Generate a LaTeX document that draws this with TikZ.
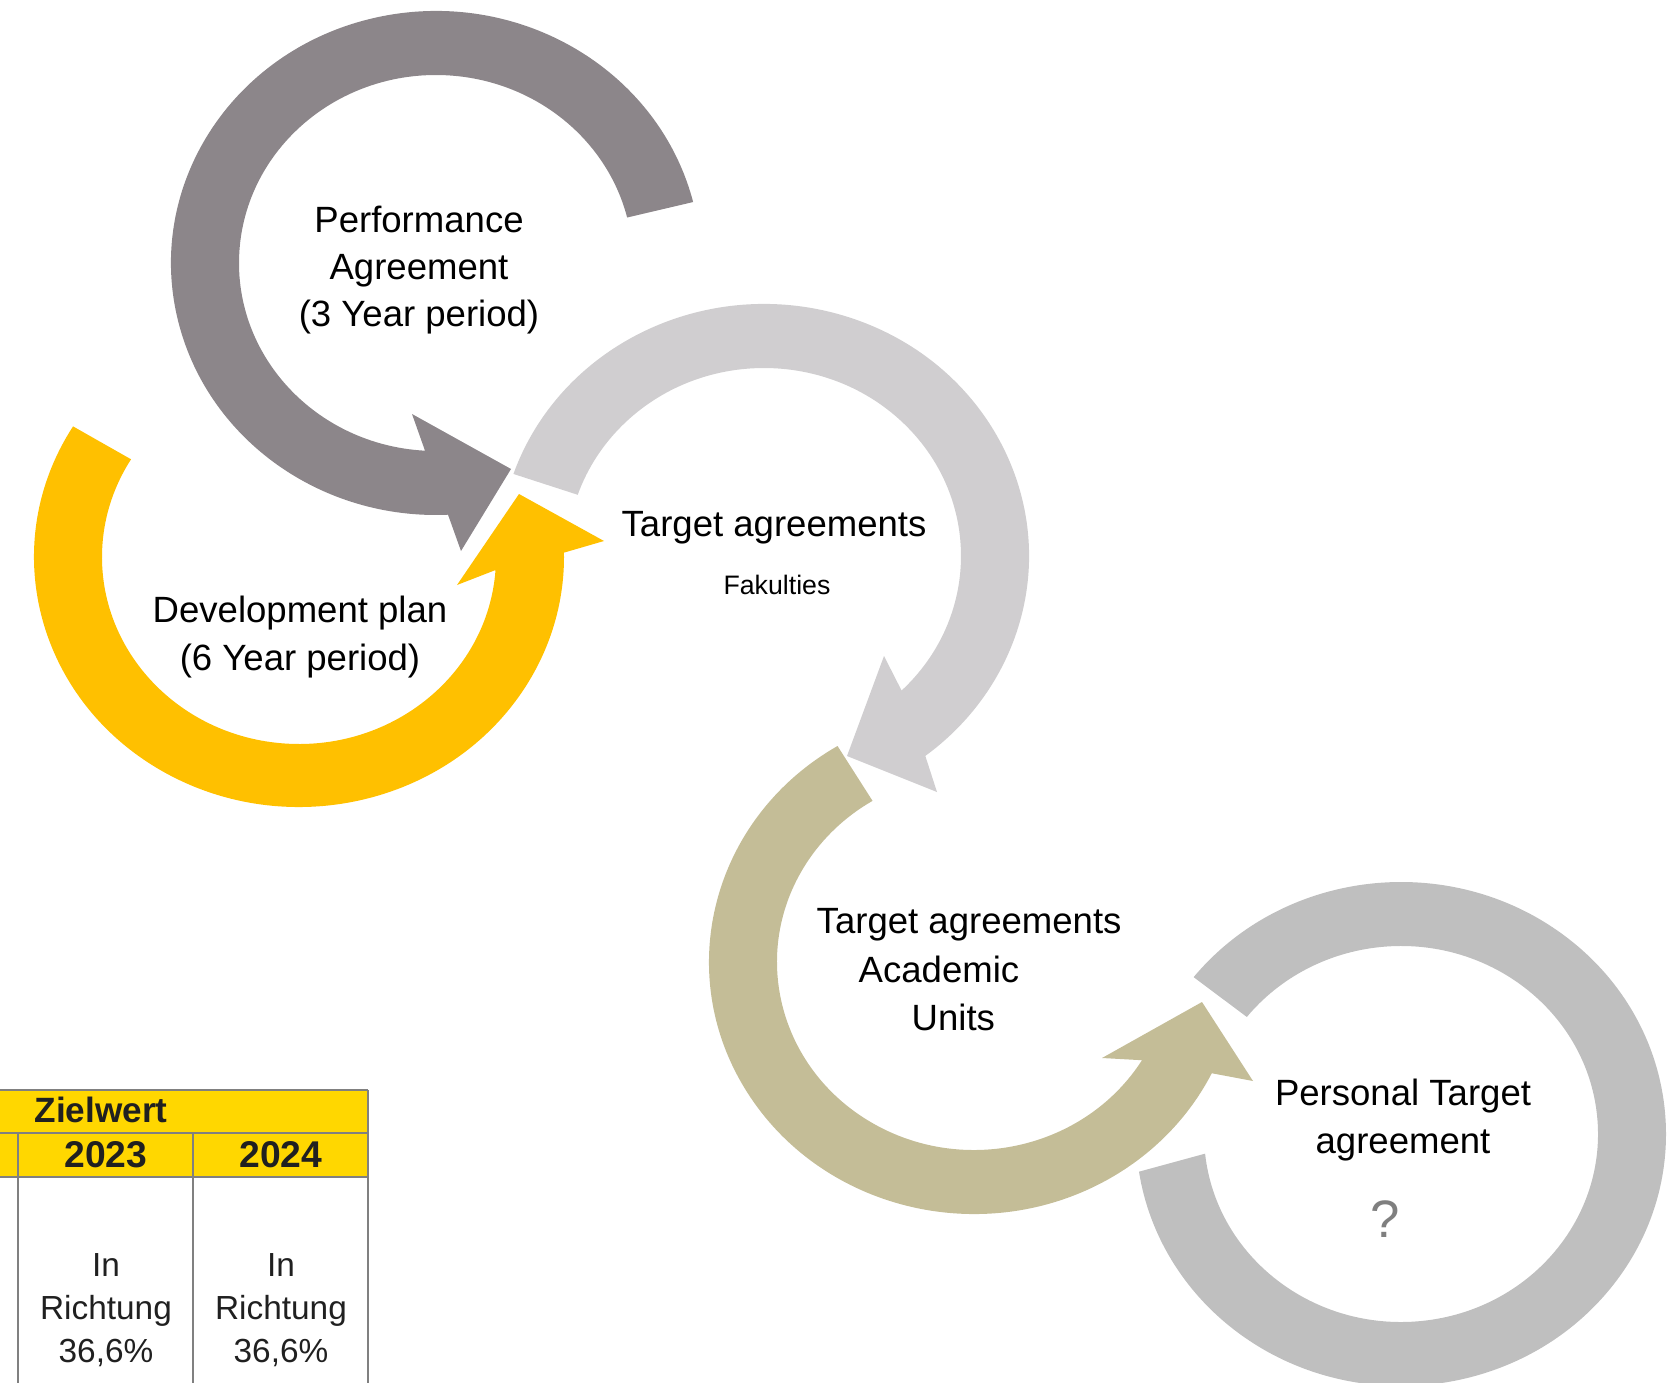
\documentclass[tikz,border=0pt]{standalone}
\usepackage{fontspec}
\setmainfont{Liberation Sans}
\usetikzlibrary{calc}
\definecolor{PerfGray}{RGB}{140,134,138}
\definecolor{PlanYellow}{HTML}{FFC000}
\definecolor{FacGray}{RGB}{208,206,208}
\definecolor{UnitKhaki}{RGB}{196,189,151}
\definecolor{PersonGray}{HTML}{BFBFBF}
\definecolor{HeadGold}{HTML}{FFD700}
\definecolor{RuleGray}{RGB}{128,128,128}
\definecolor{QuestGray}{HTML}{7F7F7F}
\definecolor{CellInk}{RGB}{32,32,32}

\tikzset{
  ringlabel/.style={font=\fontsize{10.4}{13.4}\selectfont, align=center, inner sep=0pt},
  cellhead/.style={font=\fontsize{10}{12}\selectfont\bfseries, text=CellInk, inner sep=0pt},
  celltext/.style={font=\fontsize{9.5}{12.2}\selectfont, align=center, text=CellInk, inner sep=0pt},
  tablerule/.style={draw=RuleGray, line width=0.8pt}
}

\begin{document}
\begin{tikzpicture}
    \useasboundingbox (0,0) rectangle (16.77,-13.83);
    \clip (0,0) rectangle (16.77,-13.83);

    % Performance Agreement loop (dark gray)
    \coordinate (perfC) at (4.36,-2.63);
    \fill[PerfGray] ($(perfC)+(14:2.65 and 2.52)$) arc[start angle=14, end angle=272.6, x radius=2.65, y radius=2.52]
        -- (4.61,-5.51) -- (5.11,-4.69) -- (4.12,-4.14)
        -- ($(perfC)+(266.8:1.97 and 1.88)$) arc[start angle=266.8, end angle=14, x radius=1.97, y radius=1.88] -- cycle;
    \node[ringlabel] (perf) at (4.19,-2.70) {Performance\\Agreement\\(3 Year period)};

    % Development plan loop (yellow)
    \coordinate (planC) at (2.99,-5.57);
    \fill[PlanYellow] ($(planC)+(148.5:2.65 and 2.50)$) arc[start angle=148.5, end angle=361, x radius=2.65, y radius=2.50]
        -- (6.04,-5.41) -- (5.19,-4.94) -- (4.57,-5.85)
        -- ($(planC)+(356:1.97 and 1.87)$) arc[start angle=356, end angle=148.5, x radius=1.97, y radius=1.87] -- cycle;
    \node[ringlabel] (plan) at (3.00,-6.37) {Development plan\\(6 Year period)};

    % Target agreements of the faculties (light gray)
    \coordinate (facC) at (7.64,-5.56);
    \fill[FacGray] ($(facC)+(161:2.65 and 2.52)$) arc[start angle=161, end angle=-52.5, x radius=2.65, y radius=2.52]
        -- (9.37,-7.92) -- (8.47,-7.56) -- (8.84,-6.56)
        -- ($(facC)+(-45.7:1.97 and 1.88)$) arc[start angle=-45.7, end angle=161, x radius=1.97, y radius=1.88] -- cycle;
    \node[ringlabel] (targfac) at (7.74,-5.28) {Target agreements};
    \node[ringlabel, font=\fontsize{7.6}{9}\selectfont] (fac) at (7.77,-5.85) {Fakulties};

    % Target agreements of the academic units (khaki)
    \coordinate (unitC) at (9.74,-9.62);
    \fill[UnitKhaki] ($(unitC)+(121:2.65 and 2.52)$) arc[start angle=121, end angle=333.8, x radius=2.65, y radius=2.52]
        -- (12.53,-10.81) -- (12.02,-10.02) -- (11.02,-10.58)
        -- ($(unitC)+(328.5:1.97 and 1.88)$) arc[start angle=328.5, end angle=121, x radius=1.97, y radius=1.88] -- cycle;
    \node[ringlabel, align=left, anchor=west, font=\fontsize{10.4}{13.8}\selectfont] (targunit) at (8.16,-9.70)
        {Target agreements\\\hspace*{0.42cm}Academic\\\hspace*{0.95cm}Units};

    % Personal target agreement (open ring)
    \coordinate (persC) at (14.01,-11.34);
    \fill[PersonGray] ($(persC)+(141.5:2.65 and 2.52)$) arc[start angle=141.5, end angle=-171.4, x radius=2.65, y radius=2.52]
        -- ($(persC)+(-174:1.97 and 1.88)$) arc[start angle=-174, end angle=141.5, x radius=1.97, y radius=1.88] -- cycle;
    \node[ringlabel] (person) at (14.03,-11.20) {Personal Target\\agreement};
    \node[ringlabel, font=\fontsize{15}{16}\selectfont, text=QuestGray] (quest) at (13.85,-12.19) {?};

    % Target value table (cut off)
    \fill[HeadGold] (0,-10.90) rectangle (3.68,-11.77);
    \draw[tablerule] (0,-10.90) -- (3.68,-10.90);
    \draw[tablerule] (0,-11.33) -- (3.68,-11.33);
    \draw[tablerule] (0,-11.77) -- (3.68,-11.77);
    \draw[tablerule] (0.18,-11.33) -- (0.18,-13.90);
    \draw[tablerule] (1.93,-11.33) -- (1.93,-13.90);
    \draw[tablerule] (3.68,-10.90) -- (3.68,-13.90);
    \node[cellhead] (ziel) at (1.01,-11.10) {Zielwert};
    \node[cellhead, font=\fontsize{10.6}{12}\selectfont\bfseries] (y2023) at (1.06,-11.55) {2023};
    \node[cellhead, font=\fontsize{10.6}{12}\selectfont\bfseries] (y2024) at (2.81,-11.55) {2024};
    \node[celltext] (cellA) at (1.06,-13.10) {In\\Richtung\\36,6\%};
    \node[celltext] (cellB) at (2.81,-13.10) {In\\Richtung\\36,6\%};
\end{tikzpicture}
\end{document}
